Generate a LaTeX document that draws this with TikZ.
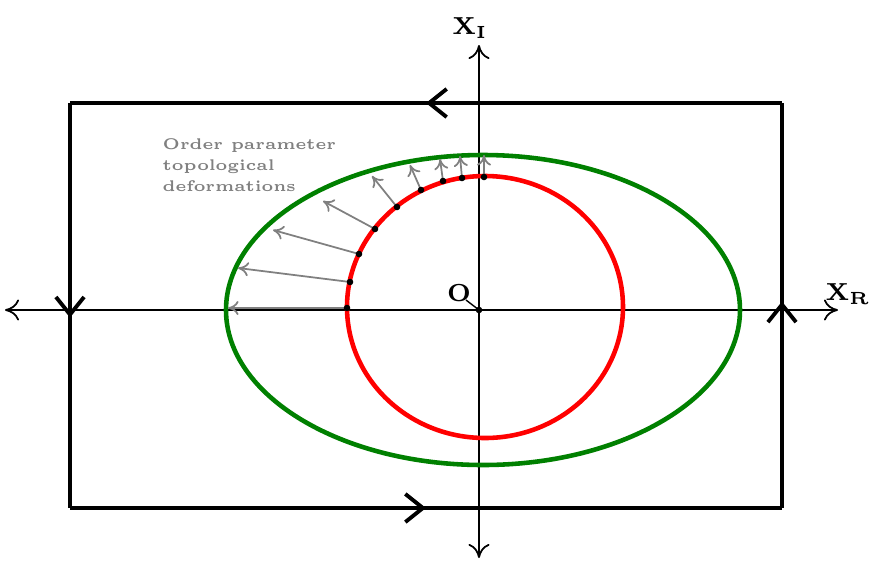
\documentclass[tikz,border=0pt]{standalone}
\usepackage{tikz}
\usetikzlibrary{arrows.meta,decorations.markings}
\tikzset{
    chev/.style={decoration={markings,mark=at position #1 with {\arrow[line width=1.1pt]{Straight Barb[length=5pt,width=8pt]}}},postaction=decorate},
    deform/.style={gray, line width=0.5pt, -{To[length=3pt,width=4pt]}},
    lbl/.style={font=\bfseries\fontsize{7}{8}\selectfont}
}
\begin{document}
\begin{tikzpicture}[x=0.01cm,y=-0.01cm]
    \useasboundingbox (0,0) rectangle (872,575);

    % Contour
    \draw[line width=1.3pt, chev=0.5] (782,103) -- (70,103);
    \draw[line width=1.3pt, chev=0.53] (70,103) -- (70,508);
    \draw[line width=1.3pt, chev=0.5] (70,508) -- (782,508);
    \draw[line width=1.3pt, chev=0.51] (782,508) -- (782,103);

    % Axes
    \draw[{To[length=4pt,width=6pt]}-{To[length=4pt,width=6pt]}, line width=0.5pt] (5,310) -- (838,310) coordinate (xr);
    \draw[{To[length=4pt,width=6pt]}-{To[length=4pt,width=6pt]}, line width=0.5pt] (479,558) -- (479,45) coordinate (xi);
    \node[lbl] at (470,28) {X$_{\mathbf I}$};
    \node[lbl] at (848,294) {X$_{\mathbf R}$};

    % Curves
    \draw[green!50!black, line width=1.3pt] (483,310) ellipse [x radius=257, y radius=155];
    \draw[red, line width=1.3pt] (485,307) ellipse [x radius=138, y radius=131];

    % Deformations
    \foreach \ax/\ay/\bx/\by in {347/308/228/308, 350/282/238/268, 359/254/273/230,
        375/229/323/201, 397/207/372/176, 421/190/410/165, 443/181/440/159,
        462/178/460/156, 484/177/484/155} {
        \draw[deform] (\ax,\ay) -- (\bx,\by);
        \fill (\ax,\ay) circle (3.3);
    }
    \node[gray, font=\bfseries\fontsize{4.4}{5.9}\selectfont, align=left, anchor=north west, inner sep=0pt] at (162,138)
        {Order parameter\\topological\\deformations};

    % Origin
    \fill (479,310) circle (3.3);
    \node[lbl] (o) at (459,293) {O};
    \draw[line width=0.4pt] (466,300) -- (479,310);
\end{tikzpicture}
\end{document}
